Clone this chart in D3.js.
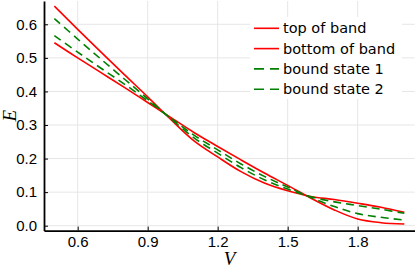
<!DOCTYPE html>
<html>
<head>
<meta charset="utf-8">
<script src="https://cdn.jsdelivr.net/npm/d3@7"></script>
<style>
  body { margin: 0; background: white; }
  .tick text { font-family: "Liberation Sans", Arial, sans-serif; font-size: 15px; fill: black; }
</style>
</head>
<body>
<svg class="chart"></svg>
<script>
// values
const V = [0.5, 0.6, 0.7, 0.8, 0.9, 1.0, 1.1, 1.2, 1.3, 1.4, 1.5, 1.6, 1.7, 1.8, 1.9, 2.0];
const topBand    = [0.654, 0.585, 0.517, 0.450, 0.384, 0.316, 0.252, 0.205, 0.161, 0.127, 0.104, 0.087, 0.078, 0.067, 0.055, 0.040];
const bottomBand = [0.545, 0.500, 0.456, 0.412, 0.367, 0.322, 0.277, 0.236, 0.196, 0.157, 0.120, 0.082, 0.047, 0.020, 0.009, 0.005];
const bound1     = [0.617, 0.556, 0.496, 0.437, 0.378, 0.318, 0.261, 0.216, 0.173, 0.137, 0.109, 0.086, 0.071, 0.060, 0.049, 0.037];
const bound2     = [0.566, 0.517, 0.469, 0.422, 0.372, 0.320, 0.269, 0.226, 0.184, 0.147, 0.115, 0.084, 0.057, 0.036, 0.025, 0.017];
const xTicks = [0.6, 0.9, 1.2, 1.5, 1.8];
const yTicks = [0.0, 0.1, 0.2, 0.3, 0.4, 0.5, 0.6];

const series = [
  { name: "top of band", values: topBand, color: "#ff0000", dash: null },
  { name: "bottom of band", values: bottomBand, color: "#ff0000", dash: null },
  { name: "bound state 1", values: bound1, color: "#008000", dash: "8,5" },
  { name: "bound state 2", values: bound2, color: "#008000", dash: "8,5" }
];

const width = 415, height = 268;
const margin = { top: 1, right: 0.3, bottom: 37.4, left: 44 };

const svg = d3.select(".chart")
  .attr("width", width)
  .attr("height", height);

const x = d3.scaleLinear()
  .domain([0.4556, 2.0444])
  .range([margin.left, width - margin.right]);

const y = d3.scaleLinear()
  .domain([-0.0146, 0.6694])
  .range([height - margin.bottom, margin.top]);

// grid
svg.append("g")
  .selectAll("line")
  .data(xTicks)
  .enter()
  .append("line")
  .attr("x1", d => x(d)).attr("x2", d => x(d))
  .attr("y1", margin.top).attr("y2", height - margin.bottom)
  .attr("stroke", "#e6e6e6");

svg.append("g")
  .selectAll("line")
  .data(yTicks)
  .enter()
  .append("line")
  .attr("x1", margin.left).attr("x2", width - margin.right)
  .attr("y1", d => y(d)).attr("y2", d => y(d))
  .attr("stroke", "#e6e6e6");

// curves
const line = d3.line()
  .x((d, i) => x(V[i]))
  .y(d => y(d))
  .curve(d3.curveCatmullRom);

svg.append("g")
  .selectAll("path")
  .data(series)
  .enter()
  .append("path")
  .attr("d", d => line(d.values))
  .attr("fill", "none")
  .attr("stroke", d => d.color)
  .attr("stroke-width", 1.6)
  .attr("stroke-dasharray", d => d.dash);

// legend (white box, no border)
const legend = svg.append("g")
  .attr("transform", "translate(250,17)");

legend.append("rect")
  .attr("width", 152)
  .attr("height", 82)
  .attr("fill", "white");

series.forEach((s, i) => {
  const ly = 11.3 + i * 20.3;
  legend.append("line")
    .attr("x1", 4).attr("x2", 29)
    .attr("y1", ly).attr("y2", ly)
    .attr("stroke", s.color)
    .attr("stroke-width", 1.6)
    .attr("stroke-dasharray", s.dash ? "10,6" : null);
  legend.append("text")
    .attr("x", 33)
    .attr("y", ly + 5)
    .style("font-family", "DejaVu Sans, sans-serif")
    .style("font-size", "14.5px")
    .text(s.name);
});

// axes
svg.append("g")
  .attr("transform", `translate(0,${height - margin.bottom})`)
  .call(d3.axisBottom(x).tickValues(xTicks).tickFormat(d3.format(".1f"))
    .tickSizeInner(-4).tickSizeOuter(0).tickPadding(6))
  .call(g => g.select(".domain").attr("stroke-width", 1.8))
  .call(g => g.selectAll(".tick line").attr("stroke-width", 1));

svg.append("g")
  .attr("transform", `translate(${margin.left},0)`)
  .call(d3.axisLeft(y).tickValues(yTicks).tickFormat(d3.format(".1f"))
    .tickSizeInner(-4).tickSizeOuter(0).tickPadding(7))
  .call(g => g.select(".domain").attr("stroke-width", 1.8))
  .call(g => g.selectAll(".tick line").attr("stroke-width", 1));

// axis titles
svg.append("text")
  .attr("x", (margin.left + width) / 2)
  .attr("y", 265)
  .style("text-anchor", "middle")
  .style("font-family", "Liberation Serif, serif")
  .style("font-style", "italic")
  .style("font-size", "19px")
  .text("V");

svg.append("text")
  .attr("transform", `translate(16,${(margin.top + height - margin.bottom) / 2}) rotate(-90)`)
  .style("text-anchor", "middle")
  .style("font-family", "Liberation Serif, serif")
  .style("font-style", "italic")
  .style("font-size", "19px")
  .text("E");
</script>
</body>
</html>
